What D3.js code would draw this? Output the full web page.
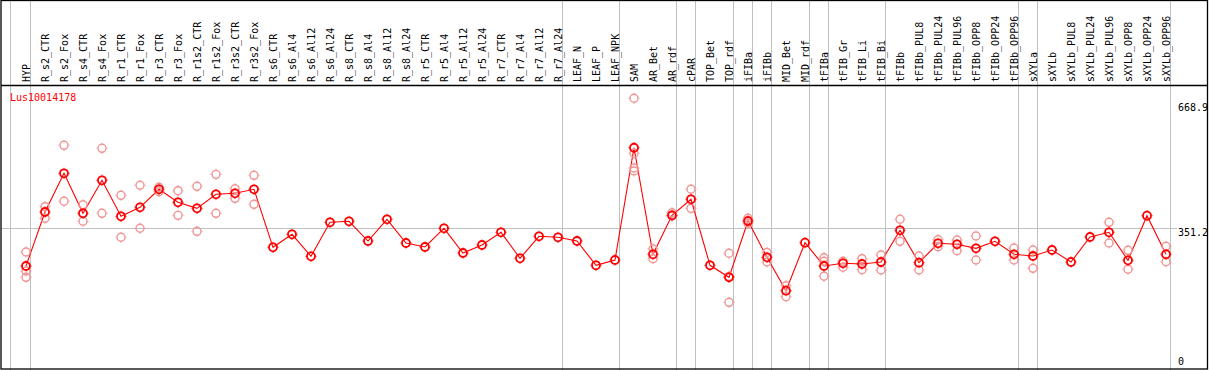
<!DOCTYPE html>
<html>
<head>
<meta charset="utf-8">
<script src="https://cdn.jsdelivr.net/npm/d3@7/dist/d3.min.js"></script>
<style>
    html, body { margin: 0; padding: 0; background: #fff; }
    svg { display: block; }
    text { font-family: "DejaVu Sans Mono", "Liberation Mono", monospace; font-size: 10px; }
</style>
</head>
<body>
<svg id="chart" width="1209" height="370"></svg>
<script>
// samples (x categories)
const samples = [
    'HYP', 'R_s2_CTR', 'R_s2_Fox', 'R_s4_CTR', 'R_s4_Fox', 'R_r1_CTR', 'R_r1_Fox', 'R_r3_CTR', 'R_r3_Fox',
    'R_r1s2_CTR', 'R_r1s2_Fox', 'R_r3s2_CTR', 'R_r3s2_Fox', 'R_s6_CTR', 'R_s6_Al4', 'R_s6_Al12', 'R_s6_Al24',
    'R_s8_CTR', 'R_s8_Al4', 'R_s8_Al12', 'R_s8_Al24', 'R_r5_CTR', 'R_r5_Al4', 'R_r5_Al12', 'R_r5_Al24',
    'R_r7_CTR', 'R_r7_Al4', 'R_r7_Al12', 'R_r7_Al24', 'LEAF_N', 'LEAF_P', 'LEAF_NPK', 'SAM', 'AR_Bet', 'AR_rdf',
    'cPAR', 'TOP_Bet', 'TOP_rdf', 'iFIBa', 'iFIBb', 'MID_Bet', 'MID_rdf', 'tFIBa', 'tFIB_Gr', 'tFIB_Li', 'tFIB_Bi',
    'tFIBb', 'tFIBb_PUL8', 'tFIBb_PUL24', 'tFIBb_PUL96', 'tFIBb_OPP8', 'tFIBb_OPP24', 'tFIBb_OPP96',
    'sXYLa', 'sXYLb', 'sXYLb_PUL8', 'sXYLb_PUL24', 'sXYLb_PUL96', 'sXYLb_OPP8', 'sXYLb_OPP24', 'sXYLb_OPP96'
];

// mean expression per sample
const means = [
    259.0, 391.0, 485.6, 387.8, 468.5, 380.5, 402.5, 446.5, 414.7,
    400.0, 434.3, 436.7, 446.5, 304.7, 336.5, 282.7, 365.8,
    368.3, 320.1, 373.2, 315.3, 305.5, 351.2, 290.8, 310.4,
    341.4, 277.9, 331.6, 329.2, 320.1, 260.8, 273.7, 548.1, 287.6, 382.9,
    422.0, 260.8, 231.4, 369.0, 280.3, 198.7, 316.0, 259.0, 265.6, 263.9, 268.8,
    346.3, 267.1, 314.5, 312.1, 302.3, 319.4, 287.6,
    283.5, 298.1, 268.8, 329.9, 341.4, 273.0, 382.0, 287.6
];

// individual replicates per sample
const replicates = [
    [293.3, 246.8, 231.4], [404.0, 375.6], [554.0, 417.2], [408.8, 368.3], [546.7, 387.8],
    [431.8, 329.2], [456.3, 351.2], [451.4, 440.6], [443.1, 382.9],
    [453.8, 343.8], [483.1, 387.8], [447.9, 424.5], [480.7, 409.8], [], [], [], [],
    [], [], [], [], [], [], [], [],
    [], [], [], [], [], [], [], [668.9, 534.5, 498.5, 491.2], [300.6, 276.9], [389.3, 381.2],
    [446.5, 400.0], [], [290.1, 233.8, 170.3], [375.6, 363.4], [292.0, 268.8], [210.9, 184.0], [],
    [279.3, 270.5, 233.9], [270.5, 255.9], [276.9, 250.0], [285.9, 249.3],
    [373.2, 319.4], [283.5, 249.3], [323.3, 306.2], [322.6, 296.4], [332.4, 273.7], [], [303.0, 273.7],
    [298.1, 253.4], [], [], [], [365.8, 315.3], [297.4, 251.0], [], [307.2, 269.5]
];

// group boundaries: a separator is drawn right after these samples
const groupEnds = ['HYP', 'R_r7_Al24', 'LEAF_NPK', 'AR_rdf', 'cPAR', 'TOP_rdf', 'iFIBa', 'iFIBb',
    'MID_rdf', 'tFIBa', 'tFIB_Bi', 'tFIBb_OPP96', 'sXYLa', 'sXYLb_OPP96'];

const yTicks = [668.9, 351.2, 0];
const geneName = 'Lus10014178';

const W = 1209, H = 370;
const headerBottom = 85.5;

const svg = d3.select('#chart');

const x = d3.scalePoint().domain(samples).range([26, 1166]);
const y = d3.scaleLinear().domain([0, 668.9]).range([372, 98.3]);

const grid = svg.append('g').attr('class', 'grid');

// vertical group separators (full height)
const sepX = [x(samples[0]) - 15.5].concat(groupEnds.map(s => x(s) + 4.5));
grid.selectAll('line.sep')
    .data(sepX).enter().append('line')
    .attr('class', 'sep')
    .attr('x1', d => d).attr('x2', d => d)
    .attr('y1', 0).attr('y2', H)
    .attr('stroke', '#c0c0c0')
    .attr('stroke-width', 1);

// middle reference line
grid.append('line')
    .attr('x1', 1).attr('x2', 1177)
    .attr('y1', Math.round(y(yTicks[1])) + 0.5).attr('y2', Math.round(y(yTicks[1])) + 0.5)
    .attr('stroke', '#c0c0c0')
    .attr('stroke-width', 1);

// frame
const frame = svg.append('g').attr('class', 'frame');
frame.append('rect')
    .attr('x', 1).attr('y', 0.5)
    .attr('width', 1206.5).attr('height', 368.5)
    .attr('fill', 'none')
    .attr('stroke', '#000')
    .attr('stroke-width', 1.3);
frame.append('line')
    .attr('x1', 1).attr('x2', 1207.5)
    .attr('y1', headerBottom).attr('y2', headerBottom)
    .attr('stroke', '#000')
    .attr('stroke-width', 1.3);

// sample labels (rotated)
svg.append('g').attr('class', 'labels').selectAll('text')
    .data(samples).enter().append('text')
    .attr('transform', d => `translate(${x(d)}, 82) rotate(-90)`)
    .attr('dy', '0.35em')
    .attr('text-anchor', 'start')
    .attr('fill', '#000')
    .text(d => d);

// y tick labels on the right
svg.append('g').attr('class', 'yticks').selectAll('text')
    .data(yTicks).enter().append('text')
    .attr('x', 1178)
    .attr('y', d => Math.max(111, Math.min(365, y(d) + 8)))
    .attr('fill', '#000')
    .text(d => d === 0 ? '0' : d.toFixed(1));

// gene name
svg.append('text')
    .attr('x', 10).attr('y', 101)
    .attr('fill', '#ff0000')
    .text(geneName);

// mean profile line
const line = d3.line()
    .x((d, i) => x(samples[i]))
    .y(d => y(d));

svg.append('path')
    .datum(means)
    .attr('d', line)
    .attr('fill', 'none')
    .attr('stroke', '#ff0000')
    .attr('stroke-width', 1.1);

function drawMarker(g, color, sw) {
    g.append('circle')
        .attr('r', 4)
        .attr('fill', 'none')
        .attr('stroke', color)
        .attr('stroke-width', sw);
    [[0, -4.5, 0, -5.5], [0, 4.5, 0, 5.5], [-4.5, 0, -5.5, 0], [4.5, 0, 5.5, 0]].forEach(t => {
        g.append('line')
            .attr('x1', t[0]).attr('y1', t[1]).attr('x2', t[2]).attr('y2', t[3])
            .attr('stroke', color)
            .attr('stroke-width', 1);
    });
}

// replicate points
const repPoints = [];
replicates.forEach((reps, i) => reps.forEach(v => repPoints.push({ s: samples[i], v: v })));

svg.append('g').attr('class', 'reps').selectAll('g')
    .data(repPoints).enter().append('g')
    .attr('transform', d => `translate(${x(d.s)}, ${y(d.v)})`)
    .each(function() { drawMarker(d3.select(this), '#f09494', 1.4); });

// mean points
svg.append('g').attr('class', 'means').selectAll('g')
    .data(means).enter().append('g')
    .attr('transform', (d, i) => `translate(${x(samples[i])}, ${y(d)})`)
    .each(function() { drawMarker(d3.select(this), '#ff0000', 1.8); });
</script>
</body>
</html>
